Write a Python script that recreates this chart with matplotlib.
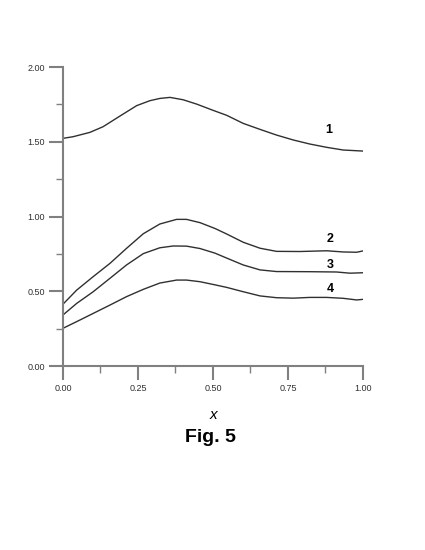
import numpy as np
import matplotlib.pyplot as plt

plt.rcParams.update({
    "font.family": "sans-serif",
    "font.sans-serif": ["Liberation Sans", "DejaVu Sans"],
})

# values
x1 = [0.0, 0.034, 0.09, 0.134, 0.19, 0.246, 0.29, 0.323, 0.357, 0.401, 0.446, 0.501,
      0.546, 0.601, 0.657, 0.712, 0.768, 0.823, 0.879, 0.934, 1.0]
curve1 = [1.523, 1.534, 1.563, 1.601, 1.672, 1.742, 1.775, 1.790, 1.797, 1.781, 1.752, 1.710,
          1.677, 1.623, 1.583, 1.545, 1.512, 1.485, 1.463, 1.445, 1.438]

x2 = [0.0, 0.046, 0.101, 0.157, 0.212, 0.268, 0.323, 0.379, 0.412, 0.457, 0.507,
      0.546, 0.601, 0.657, 0.712, 0.79, 0.879, 0.934, 0.979, 1.0]
curve2 = [0.413, 0.508, 0.598, 0.687, 0.787, 0.885, 0.950, 0.981, 0.981, 0.959, 0.920,
          0.883, 0.828, 0.788, 0.767, 0.766, 0.771, 0.763, 0.761, 0.770]

x3 = [0.0, 0.046, 0.101, 0.157, 0.212, 0.268, 0.323, 0.368, 0.412, 0.457, 0.507,
      0.546, 0.601, 0.657, 0.712, 0.823, 0.912, 0.957, 1.0]
curve3 = [0.341, 0.419, 0.497, 0.587, 0.676, 0.752, 0.791, 0.803, 0.802, 0.786, 0.755,
          0.722, 0.676, 0.643, 0.632, 0.631, 0.629, 0.621, 0.624]

x4 = [0.0, 0.057, 0.101, 0.157, 0.212, 0.268, 0.323, 0.379, 0.412, 0.457, 0.507,
      0.546, 0.601, 0.657, 0.712, 0.768, 0.823, 0.879, 0.934, 0.979, 1.0]
curve4 = [0.252, 0.308, 0.352, 0.408, 0.464, 0.513, 0.555, 0.575, 0.575, 0.564, 0.543,
          0.526, 0.497, 0.469, 0.457, 0.454, 0.459, 0.459, 0.453, 0.442, 0.446]

series = [(x1, curve1), (x2, curve2), (x3, curve3), (x4, curve4)]
labels = ["1", "2", "3", "4"]
label_pos = [(0.885, 1.58), (0.89, 0.85), (0.89, 0.677), (0.89, 0.515)]

fig = plt.figure(figsize=(4.25, 5.5), dpi=100)
ax = fig.add_axes([0.148, 0.3345, 0.706, 0.5436])

for xv, yv in series:
    ax.plot(xv, yv, color="#303030", lw=1.0)

for lab, (lx, ly) in zip(labels, label_pos):
    ax.text(lx, ly, lab, fontsize=9, fontweight="bold", ha="center", va="center")

ax.set_xlim(0, 1.0)
ax.set_ylim(0, 2.0)
ax.set_xticks([0, 0.25, 0.5, 0.75, 1.0])
ax.set_xticklabels(["0.00", "0.25", "0.50", "0.75", "1.00"])
ax.set_yticks([0, 0.5, 1.0, 1.5, 2.0])
ax.set_yticklabels(["0.00", "0.50", "1.00", "1.50", "2.00"])
ax.set_xticks([0.125, 0.375, 0.625, 0.875], minor=True)
ax.set_yticks([0.25, 0.75, 1.25, 1.75], minor=True)

for s in ["top", "right"]:
    ax.spines[s].set_visible(False)
for s in ["left", "bottom"]:
    ax.spines[s].set_color("#808080")
    ax.spines[s].set_linewidth(1.5)

ax.tick_params(which="major", direction="out", length=10, width=1.5, color="#808080",
               labelsize=6.5, labelcolor="#303030", pad=3)
ax.tick_params(which="minor", direction="out", length=5, width=1.0, color="#808080")

fig.text(213 / 425, 1 - 415 / 550, "x", fontsize=11, style="italic", ha="center", va="center")
fig.text(210 / 425, 1 - 438 / 550, "Fig. 5", fontsize=14, fontweight="bold", ha="center", va="center")

fig.savefig("out.png", dpi=100)
